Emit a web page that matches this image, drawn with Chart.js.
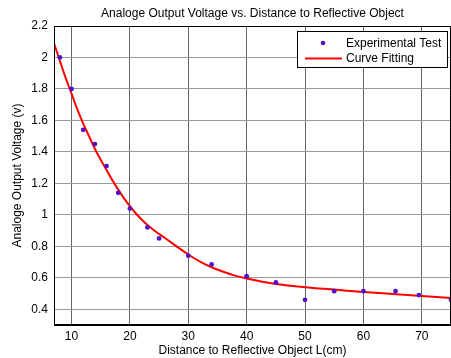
<!DOCTYPE html>
<html>
<head>
<meta charset="utf-8">
<script src="https://cdn.jsdelivr.net/npm/chart.js@4/dist/chart.umd.min.js"></script>
<style>
  html, body { margin: 0; padding: 0; background: #fff; }
  #wrap { width: 451px; height: 358px; position: relative; }
</style>
</head>
<body>
<div id="wrap"><canvas id="c" width="451" height="358"></canvas></div>
<script>
// ---- data ----
const titleText = "Analoge Output Voltage vs. Distance to Reflective Object";
const xTitle = "Distance to Reflective Object L(cm)";
const yTitle = "Analoge Output Voltage (v)";
const seriesLabels = ["Experimental Test", "Curve Fitting"];

const expX = [8, 10, 12, 14, 16, 18, 20, 23, 25, 30, 34, 40, 45, 50, 55, 60, 65.5, 69.5, 75];
const expY = [2.0, 1.8, 1.54, 1.45, 1.31, 1.14, 1.04, 0.92, 0.85, 0.74, 0.685, 0.61, 0.57, 0.46, 0.515, 0.515, 0.515, 0.49, 0.46];

const fitX = [7, 8, 9, 10, 11, 12, 13, 14, 15, 16, 17, 18, 19, 20, 21, 22, 23, 24, 25, 26, 28, 30, 32, 34, 36, 38, 40, 45, 50, 55, 60, 65, 70, 75];
const fitY = [2.09, 1.98, 1.87, 1.77, 1.67, 1.58, 1.50, 1.42, 1.35, 1.285, 1.22, 1.16, 1.105, 1.055, 1.01, 0.97, 0.935, 0.905, 0.878, 0.853, 0.80, 0.748, 0.703, 0.667, 0.638, 0.614, 0.595, 0.56, 0.54, 0.525, 0.51, 0.497, 0.484, 0.471];

const xTicks = [10, 20, 30, 40, 50, 60, 70];
const yTicks = [0.4, 0.6, 0.8, 1.0, 1.2, 1.4, 1.6, 1.8, 2.0, 2.2];
const xRange = [7, 75];
const yRange = [0.3, 2.2];

// ---- styling ----
const FONT = "'Liberation Sans', Arial, sans-serif";
const FS = 12;
const DOT = '#5210C4';
const RED = '#FF0000';

const boxPlugin = {
  id: 'box',
  afterDraw(chart) {
    const {ctx, chartArea: a} = chart;
    ctx.save();
    ctx.strokeStyle = '#000';
    ctx.lineWidth = 1;
    ctx.strokeRect(a.left + 0.5, a.top + 0.5, a.right - a.left - 1, a.bottom - a.top - 1);
    ctx.lineWidth = 2;
    ctx.beginPath();
    ctx.moveTo(a.left, a.bottom);
    ctx.lineTo(a.right, a.bottom);
    ctx.stroke();
    ctx.restore();

    // legend box (top-right, inside plot)
    const L = 297, T = 31, W = 151, H = 37;
    ctx.save();
    ctx.fillStyle = '#fff';
    ctx.fillRect(L, T, W, H);
    ctx.strokeStyle = '#000';
    ctx.lineWidth = 1;
    ctx.strokeRect(L + 0.5, T + 0.5, W - 1, H - 1);
    ctx.font = FS + 'px ' + FONT;
    ctx.fillStyle = '#000';
    ctx.textBaseline = 'middle';
    ctx.textAlign = 'left';
    const ds = chart.data.datasets;
    ctx.fillStyle = ds[0].backgroundColor;
    ctx.beginPath();
    ctx.arc(323, 43, 2.3, 0, Math.PI * 2);
    ctx.fill();
    ctx.fillStyle = '#000';
    ctx.fillText(ds[0].label, 346, 43.5);
    ctx.strokeStyle = ds[1].borderColor;
    ctx.lineWidth = 2;
    ctx.beginPath();
    ctx.moveTo(305, 58.5);
    ctx.lineTo(342, 58.5);
    ctx.stroke();
    ctx.fillText(ds[1].label, 346, 58.5);
    ctx.restore();
  }
};

new Chart(document.getElementById('c'), {
  type: 'scatter',
  data: {
    datasets: [
      {
        label: seriesLabels[0],
        data: expX.map((x, i) => ({x, y: expY[i]})),
        backgroundColor: DOT,
        borderColor: DOT,
        pointRadius: 2.4,
        pointBorderWidth: 0,
        showLine: false,
        order: 0
      },
      {
        label: seriesLabels[1],
        data: fitX.map((x, i) => ({x, y: fitY[i]})),
        borderColor: RED,
        backgroundColor: RED,
        borderWidth: 2,
        pointRadius: 0,
        showLine: true,
        cubicInterpolationMode: 'monotone',
        order: 1
      }
    ]
  },
  options: {
    responsive: false,
    animation: false,
    layout: { padding: 0, autoPadding: false },
    plugins: {
      legend: { display: false },
      tooltip: { enabled: false },
      title: {
        display: true,
        fullSize: false,
        text: titleText,
        color: '#000',
        font: { family: FONT, size: FS, weight: 'normal' },
        padding: { top: 6, bottom: 5.6 }
      }
    },
    scales: {
      x: {
        type: 'linear',
        min: xRange[0],
        max: xRange[1],
        afterBuildTicks(scale) { scale.ticks = xTicks.map(v => ({value: v})); },
        afterFit(scale) { scale.height = 33; scale.paddingLeft = 0; scale.paddingRight = 0; },
        grid: { color: '#666', lineWidth: 1, drawTicks: false },
        border: { display: false },
        ticks: {
          color: '#000',
          padding: 4,
          font: { family: FONT, size: FS },
          callback: v => String(v)
        },
        title: {
          display: true,
          text: xTitle,
          color: '#000',
          font: { family: FONT, size: FS },
          padding: { top: 0, bottom: 0 }
        }
      },
      y: {
        type: 'linear',
        min: yRange[0],
        max: yRange[1],
        afterBuildTicks(scale) { scale.ticks = yTicks.map(v => ({value: v})); },
        afterFit(scale) { scale.width = 54; scale.paddingTop = 0; scale.paddingBottom = 0; },
        grid: { color: '#999', lineWidth: 1, drawTicks: false },
        border: { display: false },
        ticks: {
          color: '#000',
          padding: 6,
          font: { family: FONT, size: FS },
          callback: v => String(Math.round(v * 10) / 10)
        },
        title: {
          display: true,
          text: yTitle,
          color: '#000',
          font: { family: FONT, size: FS },
          padding: { top: 10.8, bottom: 0 }
        }
      }
    }
  },
  plugins: [boxPlugin]
});
</script>
</body>
</html>
